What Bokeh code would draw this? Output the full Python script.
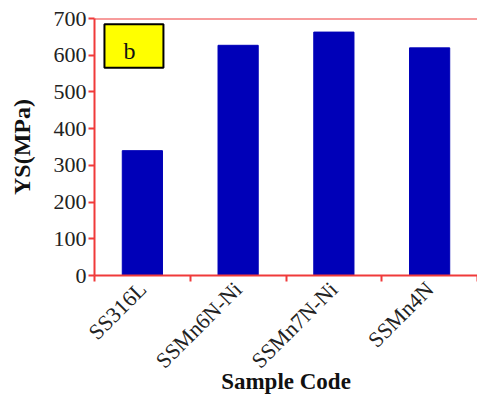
import numpy as np
from bokeh.plotting import figure
from bokeh.models import Range1d, FixedTicker, Span, BoxAnnotation, Label
from bokeh.embed import file_html
from bokeh.resources import INLINE

categories = ["SS316L", "SSMn6N-Ni", "SSMn7N-Ni", "SSMn4N"]
ys_values = [340, 627, 663, 620]
y_ticks = [0, 100, 200, 300, 400, 500, 600, 700]

RED = "#f03a3a"
BLUE = "#0000b8"
SERIF = "Liberation Serif"

n = len(categories)
centers = list(np.arange(n) + 0.5)
bounds = list(np.arange(n + 1).astype(float))

p = figure(width=477, height=396, output_backend="svg", toolbar_location=None,
           x_range=Range1d(0, n), y_range=Range1d(0, 700),
           min_border_left=94, min_border_right=0, min_border_top=18, min_border_bottom=117)

p.vbar(x=centers, top=ys_values, width=0.42, fill_color=BLUE, line_color=BLUE)

p.xgrid.visible = False
p.ygrid.visible = False
p.outline_line_color = None
p.background_fill_color = "white"
p.border_fill_color = "white"

p.add_layout(Span(location=700, dimension="width", line_color=RED, line_width=2))

# x axis
xa = p.xaxis[0]
xa.ticker = FixedTicker(ticks=centers, minor_ticks=bounds)
xa.major_label_overrides = {c: lab for c, lab in zip(centers, categories)}
xa.major_tick_line_color = None
xa.minor_tick_line_color = RED
xa.minor_tick_line_width = 2
xa.minor_tick_out = 6
xa.minor_tick_in = 0
xa.axis_line_color = RED
xa.axis_line_width = 2
xa.major_label_orientation = np.pi / 4
xa.major_label_text_font = SERIF
xa.major_label_text_font_size = "22px"
xa.major_label_text_color = "#222222"
xa.major_label_standoff = 4
xa.axis_label = "Sample Code"
xa.axis_label_text_font = SERIF
xa.axis_label_text_font_style = "bold"
xa.axis_label_text_font_size = "23px"
xa.axis_label_text_color = "#111111"
xa.axis_label_standoff = -16

# y axis
ya = p.yaxis[0]
ya.ticker = FixedTicker(ticks=y_ticks, minor_ticks=[])
ya.major_tick_line_color = RED
ya.major_tick_line_width = 2
ya.major_tick_out = 6
ya.major_tick_in = 0
ya.axis_line_color = RED
ya.axis_line_width = 2
ya.major_label_text_font = SERIF
ya.major_label_text_font_size = "22px"
ya.major_label_text_color = "#222222"
ya.major_label_standoff = 2
ya.axis_label = "YS(MPa)"
ya.axis_label_text_font = SERIF
ya.axis_label_text_font_style = "bold"
ya.axis_label_text_font_size = "24px"
ya.axis_label_text_color = "#111111"
ya.axis_label_standoff = 16

# panel label "b"
p.add_layout(BoxAnnotation(left=0.104, right=0.72, bottom=566, top=684,
                           fill_color="#ffff00", fill_alpha=1.0,
                           line_color="black", line_alpha=1.0, line_width=2))
p.add_layout(Label(x=0.365, y=612, text="b", text_font=SERIF, text_font_size="24px",
                   text_align="center", text_baseline="middle", text_color="#111111"))

open("out.html", "w").write(file_html(p, INLINE))
